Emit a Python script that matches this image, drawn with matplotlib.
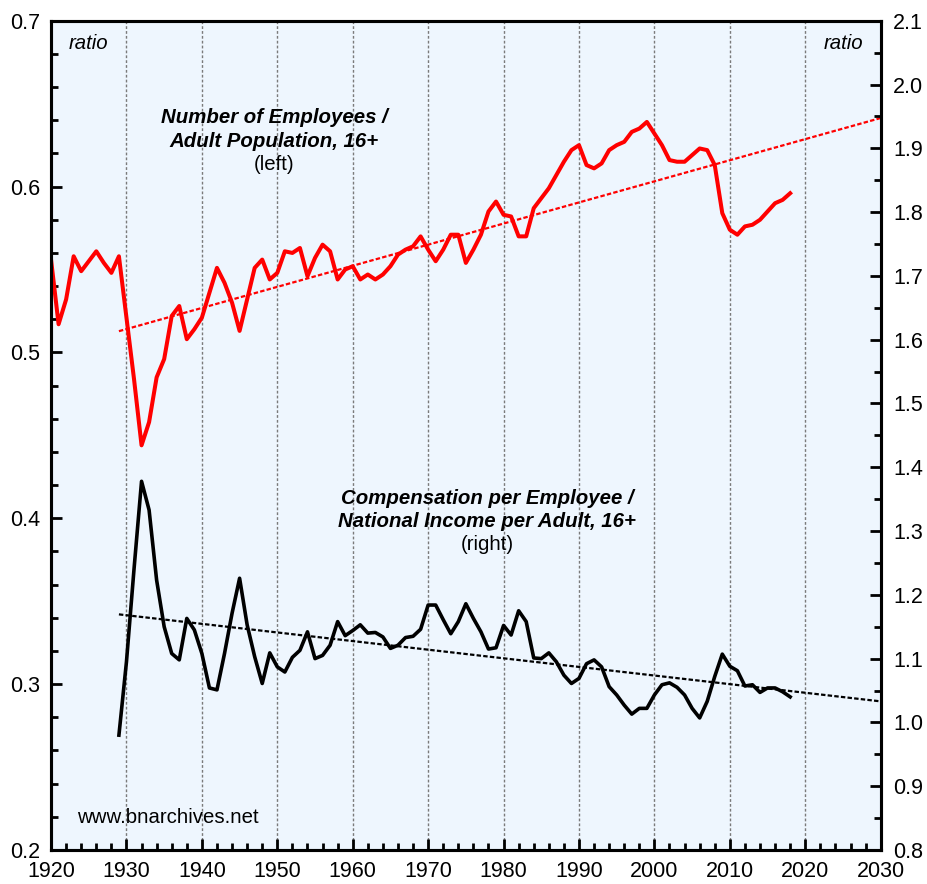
import matplotlib
matplotlib.use("Agg")
import matplotlib.pyplot as plt
import numpy as np
from matplotlib.ticker import MultipleLocator

plt.rcParams["font.family"] = ["Liberation Sans", "DejaVu Sans"]

# employees / adult population 16+ (left axis)
emp_years = list(range(1920, 2019))
emp_ratio = [
    0.556, 0.517, 0.532, 0.558, 0.549, 0.555, 0.561, 0.554, 0.548, 0.558,
    0.521, 0.484, 0.444, 0.458, 0.485, 0.496, 0.522, 0.528, 0.508, 0.514,
    0.521, 0.536, 0.551, 0.542, 0.530, 0.513, 0.532, 0.551, 0.556, 0.544,
    0.548, 0.561, 0.560, 0.563, 0.546, 0.557, 0.565, 0.561, 0.544, 0.550,
    0.552, 0.544, 0.547, 0.544, 0.547, 0.552, 0.559, 0.562, 0.564, 0.570,
    0.562, 0.555, 0.562, 0.571, 0.571, 0.554, 0.562, 0.571, 0.585, 0.591,
    0.583, 0.582, 0.570, 0.570, 0.587, 0.593, 0.599, 0.607, 0.615, 0.622,
    0.625, 0.613, 0.611, 0.614, 0.622, 0.625, 0.627, 0.633, 0.635, 0.639,
    0.632, 0.625, 0.616, 0.615, 0.615, 0.619, 0.623, 0.622, 0.613, 0.584,
    0.574, 0.571, 0.576, 0.577, 0.580, 0.585, 0.590, 0.592, 0.596,
]

# compensation per employee / national income per adult 16+ (right axis)
comp_years = list(range(1929, 2019))
comp_ratio = [
    0.980,
    1.095, 1.240, 1.378, 1.333, 1.223, 1.150, 1.108, 1.098, 1.163, 1.145,
    1.108, 1.054, 1.051, 1.108, 1.171, 1.226, 1.153, 1.103, 1.061, 1.109,
    1.087, 1.079, 1.102, 1.113, 1.142, 1.100, 1.105, 1.121, 1.158, 1.136,
    1.144, 1.153, 1.140, 1.141, 1.134, 1.116, 1.121, 1.133, 1.135, 1.146,
    1.184, 1.184, 1.161, 1.139, 1.158, 1.186, 1.163, 1.142, 1.115, 1.117,
    1.152, 1.137, 1.175, 1.158, 1.101, 1.100, 1.109, 1.095, 1.074, 1.061,
    1.069, 1.092, 1.098, 1.087, 1.056, 1.043, 1.027, 1.013, 1.022, 1.022,
    1.043, 1.059, 1.062, 1.055, 1.043, 1.022, 1.007, 1.033, 1.072, 1.107,
    1.088, 1.081, 1.057, 1.059, 1.047, 1.054, 1.054, 1.048, 1.040,
]

trend_start, trend_end = 1929, 2030

fig = plt.figure(figsize=(9.28, 8.84), dpi=100)
ax = fig.add_axes([0.055, 0.0385, 0.894, 0.938])
ax.set_facecolor("#eef6fe")
ax2 = ax.twinx()

# linear trends from 1929 on, extended to 2030
ex = np.array(emp_years)
ey = np.array(emp_ratio)
mask = ex >= trend_start
p_emp = np.polyfit(ex[mask], ey[mask], 1)
cx = np.array(comp_years)
cy = np.array(comp_ratio)
p_comp = np.polyfit(cx, cy, 1)
tx = np.array([trend_start, trend_end])

for yr in range(1930, 2030, 10):
    ax.axvline(yr, color="#7a7a7a", lw=1.0, ls=(0, (2, 1.5)), zorder=1)

ax.plot(tx, np.polyval(p_emp, tx), color="red", lw=1.6, ls=(0, (2, 1)), zorder=3)
ax.plot(emp_years, emp_ratio, color="red", lw=2.9, zorder=4)
ax2.plot(tx, np.polyval(p_comp, tx), color="black", lw=1.6, ls=(0, (2, 1)), zorder=3)
ax2.plot(comp_years, comp_ratio, color="black", lw=2.6, zorder=4)

ax.set_xlim(1920, 2030)
ax.set_ylim(0.2, 0.7)
ax2.set_ylim(0.8, 2.1)

ax.xaxis.set_major_locator(MultipleLocator(10))
ax.xaxis.set_minor_locator(MultipleLocator(2))
ax.yaxis.set_major_locator(MultipleLocator(0.1))
ax.yaxis.set_minor_locator(MultipleLocator(0.02))
ax2.yaxis.set_major_locator(MultipleLocator(0.1))
ax2.yaxis.set_minor_locator(MultipleLocator(0.05))
ax.yaxis.set_major_formatter(lambda v, pos: f"{v:.1f}")
ax2.yaxis.set_major_formatter(lambda v, pos: f"{v:.1f}")

for a in (ax, ax2):
    a.tick_params(which="both", direction="in", width=2, labelsize=15.5, top=False)
    a.tick_params(which="major", length=8)
    a.tick_params(which="minor", length=5)
    for s in a.spines.values():
        s.set_linewidth(2.2)
ax.tick_params(axis="y", pad=8)
ax.tick_params(axis="x", pad=8)
ax2.tick_params(axis="y", pad=9)

fs = 14.7
ax.text(0.021, 0.973, "ratio", transform=ax.transAxes, fontsize=fs, style="italic", va="center", ha="left")
ax.text(0.9795, 0.973, "ratio", transform=ax.transAxes, fontsize=fs, style="italic", va="center", ha="right")

ax.text(1949.6, 0.6415, "Number of Employees /", fontsize=fs,
        fontweight="bold", style="italic", ha="center", va="center")
ax.text(1949.6, 0.6272, "Adult Population, 16+", fontsize=fs,
        fontweight="bold", style="italic", ha="center", va="center")
ax.text(1949.6, 0.6131, "(left)", fontsize=fs, ha="center", va="center")

ax.text(1977.8, 0.4117, "Compensation per Employee /", fontsize=fs,
        fontweight="bold", style="italic", ha="center", va="center")
ax.text(1977.8, 0.3980, "National Income per Adult, 16+", fontsize=fs,
        fontweight="bold", style="italic", ha="center", va="center")
ax.text(1977.8, 0.3840, "(right)", fontsize=fs, ha="center", va="center")

ax.text(1923.4, 0.2193, "www.bnarchives.net", fontsize=fs, ha="left", va="center")

fig.savefig("out.png", dpi=100)
